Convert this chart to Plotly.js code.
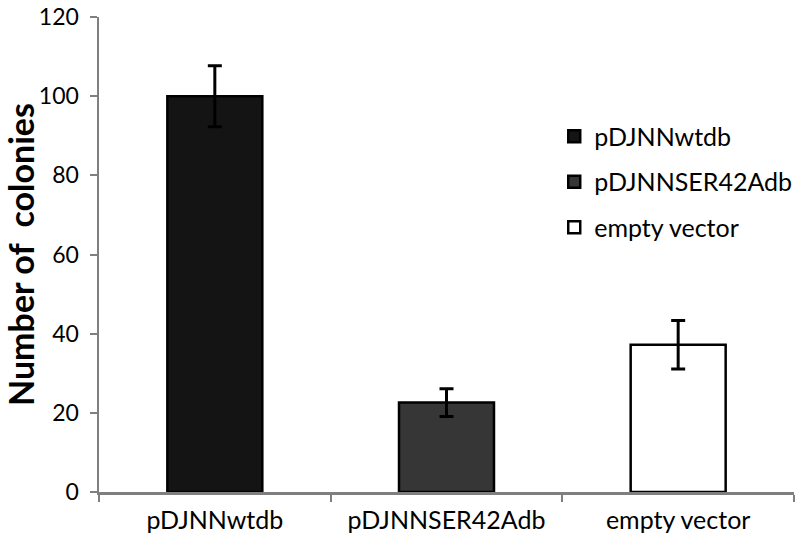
<!DOCTYPE html>
<html>
<head>
<meta charset="utf-8">
<script src="https://cdn.plot.ly/plotly-3.0.1.min.js"></script>
<style>html,body{margin:0;padding:0;background:#fff;}#chart{width:800px;height:543px;}</style>
</head>
<body>
<div id="chart"></div>
<script>
const categories = ["pDJNNwtdb", "pDJNNSER42Adb", "empty vector"];
const values = [100, 22.6, 37.2];
const errors = [7.7, 3.5, 6.1];
const fills = ["#141414", "#363636", "#ffffff"];
const yTicks = [0, 20, 40, 60, 80, 100, 120];

const FONT = "Lato, 'Open Sans', sans-serif";

const traces = categories.map((c, i) => ({
  type: "bar",
  name: c,
  x: [c],
  y: [values[i]],
  legendgroup: "g" + i,
  marker: {color: fills[i], line: {color: "#000", width: 2.5}},
  error_y: {type: "data", array: [errors[i]], visible: true, color: "#000", thickness: 3, width: 7},
  hoverinfo: "skip"
}));

const layout = {
  width: 800, height: 543,
  margin: {l: 99, r: 3, t: 17, b: 51},
  paper_bgcolor: "#fff", plot_bgcolor: "#fff",
  barmode: "overlay",
  bargap: 0.59,
  font: {family: FONT, size: 20, color: "#000"},
  showlegend: true,
  legend: {
    x: 0.655, xanchor: "left", y: 0.797, yanchor: "top",
    traceorder: "grouped", tracegroupgap: 10,
    font: {family: FONT, size: 25, color: "#000"},
    bgcolor: "rgba(0,0,0,0)"
  },
  xaxis: {
    type: "category",
    categoryorder: "array", categoryarray: categories,
    showline: true, linecolor: "#7f7f7f", linewidth: 2.5,
    ticks: "outside", tickson: "boundaries", ticklen: 7, tickwidth: 2, tickcolor: "#7f7f7f",
    tickfont: {family: FONT, size: 25, color: "#000"},
    ticklabelstandoff: 4,
    showgrid: false, zeroline: false, fixedrange: true
  },
  yaxis: {
    range: [0, 120],
    tickvals: yTicks,
    ticktext: yTicks.map(String),
    showline: true, linecolor: "#7f7f7f", linewidth: 2.5,
    ticks: "outside", ticklen: 7, tickwidth: 2, tickcolor: "#7f7f7f",
    tickfont: {family: FONT, size: 23, color: "#000"},
    ticklabelstandoff: 6,
    showgrid: false, zeroline: false, fixedrange: true,
    title: {text: "<b>Number of  colonies</b>", font: {family: FONT, size: 34, color: "#000"}, standoff: 7}
  }
};

Plotly.newPlot("chart", traces, layout, {displayModeBar: false, staticPlot: true});
</script>
</body>
</html>
